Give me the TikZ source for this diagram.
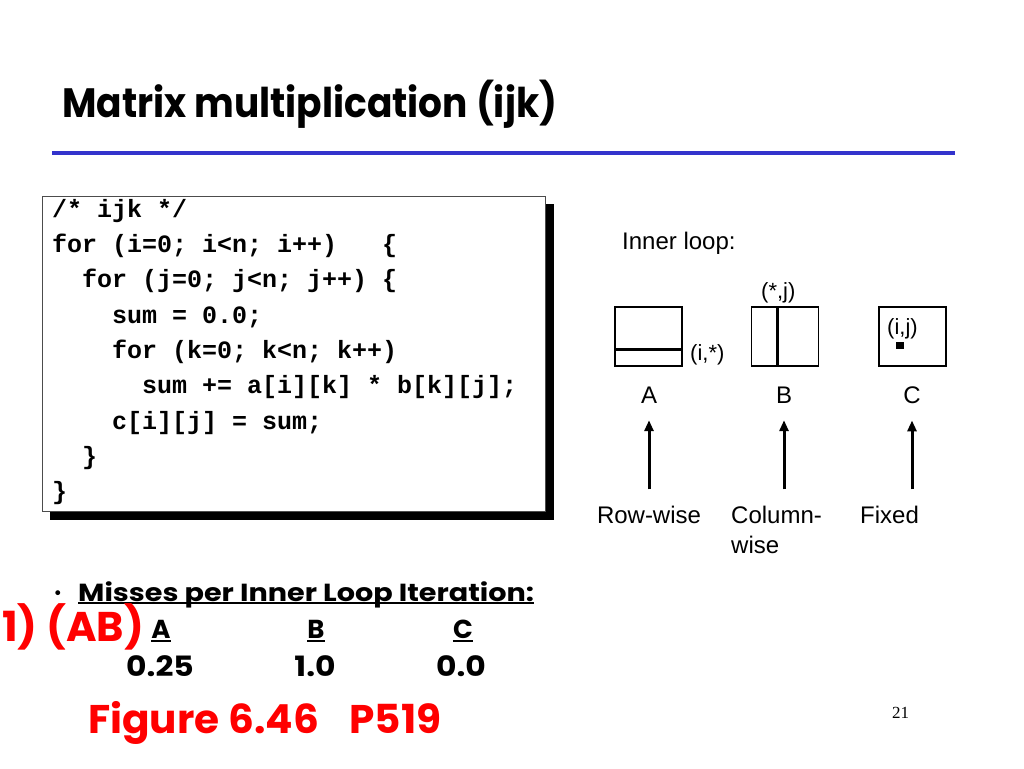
\documentclass[tikz,border=0pt]{standalone}
\usepackage{graphicx}
\usepackage{fontspec}
\setmainfont{Liberation Sans}
\newfontfamily\comicfont{Poppins}
\newfontfamily\codefont{Liberation Mono}
\newfontfamily\pagefont{Liberation Serif}
\usetikzlibrary{arrows.meta}
\definecolor{ruleblue}{RGB}{51,51,204}
\definecolor{slidered}{RGB}{255,0,0}

\begin{document}
\begin{tikzpicture}[x=1pt,y=-1pt,
  code/.style={anchor=base west, inner sep=0pt, font=\codefont\bfseries\fontsize{25}{30}\selectfont},
  lbl/.style={inner sep=0pt, font=\fontsize{24}{28}\selectfont},
  idx/.style={inner sep=0pt, anchor=base west, font=\fontsize{22}{26}\selectfont},
  mat/.style={draw, line width=1.2pt, minimum width=67pt, minimum height=59pt, inner sep=0pt},
  slice/.style={line width=3pt},
  up/.style={line width=3pt, -{Triangle[length=11pt,width=9pt]}, shorten <=16pt, shorten >=17pt},
  comic/.style={inner sep=0pt, font=\comicfont\bfseries\fontsize{26}{30}\selectfont}]

\fill[white] (0,0) rectangle (1024,768);
\useasboundingbox (0,0) rectangle (1024,768);

% Title
\node[comic, anchor=base west, font=\comicfont\bfseries\fontsize{41}{48}\selectfont] (title) at (62,117) {\scalebox{0.915}[1]{Matrix multiplication (ijk)}};
\draw[line width=4pt, ruleblue] (52,153) -- (955,153);

% Code box
\fill (50,204) rectangle (554,520);
\draw[fill=white, line width=1pt, draw=black!70] (42,196) rectangle (545,511);
\node[code] (l1) at (52,217) {/* ijk */};
\node[code] (l2) at (52,252) {for (i=0; i<n; i++)\ \ \ \{};
\node[code] (l3) at (82,287) {for (j=0; j<n; j++) \{};
\node[code] (l4) at (112,323) {sum = 0.0;};
\node[code] (l5) at (112,358) {for (k=0; k<n; k++)};
\node[code] (l6) at (142,393) {sum += a[i][k] * b[k][j];};
\node[code] (l7) at (112,429) {c[i][j] = sum;};
\node[code] (l8) at (82,464) {\}};
\node[code] (l9) at (52,499) {\}};

% Inner loop
\node[lbl, anchor=base west] (inner) at (622,249) {Inner loop:};
\node[mat] (boxA) at (648.5,336.5) {};
\node[mat] (boxB) at (785,336.5) {};
\node[mat] (boxC) at (912.5,336.5) {};
\draw[slice] ([yshift=-12.5pt]boxA.west) -- ([yshift=-12.5pt]boxA.east);
\draw[slice] ([xshift=-8pt]boxB.north) -- ([xshift=-8pt]boxB.south);
\node[fill, inner sep=0pt, minimum width=8pt, minimum height=7pt] (cij) at (900,345.5) {};
\node[idx] (rowI) at (690,360) {(i,*)};
\node[idx] (colJ) at (761,298) {(*,j)};
\node[idx] (elIJ) at (887,334) {(i,j)};

\node[lbl, anchor=base] (labA) at (649,403) {A};
\node[lbl, anchor=base] (labB) at (784,403) {B};
\node[lbl, anchor=base] (labC) at (912,403) {C};

\node[lbl, anchor=base] (rowA) at (649,523) {Row-wise};
\node[lbl, anchor=base west] (colB) at (731,523) {Column-};
\node[lbl, anchor=base west] (colB2) at (731,553) {wise};
\node[lbl, anchor=base west] (fixC) at (860,523) {Fixed};

\draw[up] (labA.south |- rowA.north) -- (labA.south);
\draw[up] (labB.south |- colB.north) -- (labB.south);
\draw[up] (labC.south |- fixC.north) -- (labC.south);

% Misses
\node[comic, font=\comicfont\bfseries\fontsize{16}{16}\selectfont] (dot) at (58,595) {•};
\node[comic, anchor=base west, font=\comicfont\bfseries\fontsize{24.7}{30}\selectfont] (misses) at (78,601) {\scalebox{1.16}[1]{Misses per Inner Loop Iteration:}};
\draw[line width=1.5pt] ([yshift=-2pt]misses.base west) -- ([yshift=-2pt]misses.base east);
\node[comic, anchor=base west, text=slidered, font=\comicfont\bfseries\fontsize{41.5}{48}\selectfont] (pair) at (2,641) {1) (AB)};
\node[comic, anchor=base] (hdA) at (161,638) {A};
\node[comic, anchor=base] (hdB) at (316,638) {B};
\node[comic, anchor=base] (hdC) at (463,638) {C};
\draw[line width=1.5pt] ([yshift=-3pt]hdA.base west) -- ([yshift=-3pt]hdA.base east);
\draw[line width=1.5pt] ([yshift=-3pt]hdB.base west) -- ([yshift=-3pt]hdB.base east);
\draw[line width=1.5pt] ([yshift=-3pt]hdC.base west) -- ([yshift=-3pt]hdC.base east);
\node[comic, anchor=base, font=\comicfont\bfseries\fontsize{28}{30}\selectfont] (rateA) at (160,676) {\scalebox{1.12}[1]{0.25}};
\node[comic, anchor=base, font=\comicfont\bfseries\fontsize{28}{30}\selectfont] (rateB) at (315,676) {\scalebox{1.12}[1]{1.0}};
\node[comic, anchor=base, font=\comicfont\bfseries\fontsize{28}{30}\selectfont] (rateC) at (461,676) {\scalebox{1.12}[1]{0.0}};

\node[comic, anchor=base west, text=slidered, font=\comicfont\bfseries\fontsize{40}{50}\selectfont] (fig) at (88,733) {\scalebox{1.015}[1]{Figure 6.46\hspace{30pt}P519}};
\node[inner sep=0pt, anchor=base west, font=\pagefont\fontsize{17}{20}\selectfont] (page) at (892,718) {21};
\end{tikzpicture}
\end{document}
